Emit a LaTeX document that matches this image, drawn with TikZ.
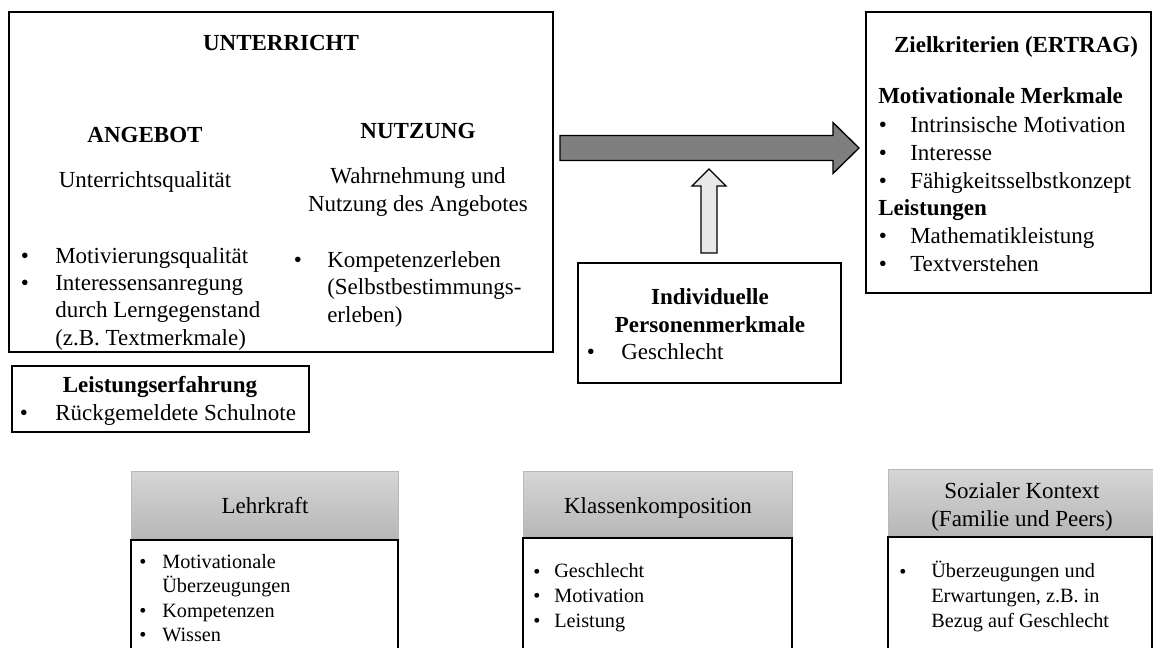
\documentclass[tikz,border=0pt]{standalone}
\usepackage{fontspec}
\setmainfont{Liberation Serif}
\usetikzlibrary{fit}
\definecolor{hdtop}{RGB}{214,214,214}
\definecolor{hdbot}{RGB}{182,182,182}
\definecolor{arrowdark}{RGB}{127,127,127}
\definecolor{arrowlight}{RGB}{232,232,232}
\definecolor{arrowmid}{RGB}{190,190,190}
\tikzset{
  frame/.style={draw=black, line width=1pt, fill=white, inner sep=0pt},
  headbox/.style={draw=gray!55, line width=0.6pt, top color=hdtop, bottom color=hdbot, inner sep=0pt},
  tb/.style={inner sep=0pt, font=\fontsize{17.25}{21}\selectfont},
  tbl/.style={inner sep=0pt, align=left, font=\fontsize{17.25}{20.6}\selectfont},
  tbz/.style={inner sep=0pt, align=left, font=\fontsize{17.25}{21}\selectfont},
  ts/.style={inner sep=0pt, align=left, font=\fontsize{15.2}{18.4}\selectfont},
  bul/.style={inner sep=0pt, anchor=base, font=\fontsize{17.25}{21}\selectfont},
  buls/.style={inner sep=0pt, anchor=base, font=\fontsize{15.2}{18.4}\selectfont},
}
\begin{document}
\begin{tikzpicture}[x=0.75pt,y=-0.75pt]
\useasboundingbox (0,0) rectangle (1153,647);
\clip (0,0) rectangle (1153,647);

% ---------- boxes ----------
\node[frame, fit={(9,12) (553,352)}] (unt) {};
\node[frame, fit={(866,12) (1151,293)}] (ziel) {};
\node[frame, fit={(578,263) (841,383)}] (indiv) {};
\node[frame, fit={(12,366) (309,432)}] (erf) {};

% bottom context boxes: shaded header above an open body
\node[headbox, fit={(131,471) (398,540)}] (lehrH) {};
\node[frame, fit={(131,540) (398,700)}] (lehrB) {};
\node[headbox, fit={(523,471) (792,538)}] (klasH) {};
\node[frame, fit={(523,538) (792,700)}] (klasB) {};
\node[headbox, fit={(888,469) (1170,537)}] (sozH) {};
\node[frame, fit={(888,537) (1152,700)}] (sozB) {};

% ---------- block arrows ----------
% wide arrow: UNTERRICHT -> Zielkriterien
\coordinate (bigS) at (560,148);
\coordinate (bigE) at (859,148);
\draw[line width=1pt, fill=arrowdark]
  (bigS |- 0,135.5) -- (833,135.5) -- (833,122.5) -- (bigE)
  -- (833,173.5) -- (833,160.5) -- (bigS |- 0,160.5) -- cycle;

% narrow arrow: Personenmerkmale -> wide arrow
\coordinate (smS) at (709,253);
\coordinate (smE) at (709,169);
\draw[line width=1pt, top color=arrowlight, middle color=arrowmid, bottom color=arrowlight]
  (701,253) -- (701,186) -- (692,186) -- (smE) -- (726,186) -- (717,186) -- (717,253) -- cycle;

% ---------- UNTERRICHT ----------
% (multi-line nodes are anchored at the baseline of their last line)
\node[tb, anchor=base] (tUnt) at (281,50) {\bfseries UNTERRICHT};
\node[tb, anchor=base] (tAng) at (145,142) {\bfseries ANGEBOT};
\node[tb, anchor=base] (tNutz) at (418,138) {\bfseries NUTZUNG};
\node[tb, anchor=base] (tUq) at (145,187) {Unterrichtsqualität};
\node[tb, anchor=base, align=center] (tWahr) at (418,211) {Wahrnehmung und\\Nutzung des Angebotes};

\node[bul] (bA1) at (25,263) {\textbullet};
\node[bul] (bA2) at (25,290.5) {\textbullet};
\node[tbl, anchor=base west] (lA) at (55,345.4) {Motivierungsqualität\\Interessensanregung\\durch Lerngegenstand\\(z.B. Textmerkmale)};

\node[bul] (bN1) at (298,267) {\textbullet};
\node[tbl, anchor=base west] (lN) at (327,322) {Kompetenzerleben\\(Selbstbestimmungs-\\erleben)};

% ---------- Zielkriterien ----------
\node[tb, anchor=base] (tZiel) at (1016,52) {\bfseries Zielkriterien (ERTRAG)};
\node[tb, anchor=base west] (tMot) at (878,103) {\bfseries Motivationale Merkmale};
\node[bul] (bZ1) at (883,132) {\textbullet};
\node[bul] (bZ2) at (883,160) {\textbullet};
\node[bul] (bZ3) at (883,188) {\textbullet};
\node[tbz, anchor=base west] (lMot) at (910,188) {Intrinsische Motivation\\Interesse\\Fähigkeitsselbstkonzept};
\node[tb, anchor=base west] (tLei) at (878,215) {\bfseries Leistungen};
\node[bul] (bZ4) at (883,243) {\textbullet};
\node[bul] (bZ5) at (883,271) {\textbullet};
\node[tbz, anchor=base west] (lLei) at (910,271) {Mathematikleistung\\Textverstehen};

% ---------- Individuelle Personenmerkmale ----------
\node[tb, anchor=base, align=center] (tInd) at (710,332) {\bfseries Individuelle\\\bfseries Personenmerkmale};
\node[bul] (bI1) at (591,359) {\textbullet};
\node[tb, anchor=base west] (lInd) at (621,359) {Geschlecht};

% ---------- Leistungserfahrung ----------
\node[tb, anchor=base] (tErf) at (160,392) {\bfseries Leistungserfahrung};
\node[bul] (bE1) at (24,420) {\textbullet};
\node[tb, anchor=base west] (lErf) at (55,420) {Rückgemeldete Schulnote};

% ---------- Lehrkraft ----------
\node[tb, anchor=base] (tLehr) at (265,513) {Lehrkraft};
\node[buls] (bL1) at (143,568) {\textbullet};
\node[buls] (bL2) at (143,617) {\textbullet};
\node[buls] (bL3) at (143,641.6) {\textbullet};
\node[ts, anchor=base west] (lLehr) at (162,641.6) {Motivationale\\Überzeugungen\\Kompetenzen\\Wissen};

% ---------- Klassenkomposition ----------
\node[tb, anchor=base] (tKlas) at (658,513) {Klassenkomposition};
\node[buls] (bK1) at (537,578) {\textbullet};
\node[buls] (bK2) at (537,602.5) {\textbullet};
\node[buls] (bK3) at (537,627) {\textbullet};
\node[ts, anchor=base west] (lKlas) at (554,627) {Geschlecht\\Motivation\\Leistung};

% ---------- Sozialer Kontext ----------
\node[tb, anchor=base, align=center] (tSoz) at (1022,526) {Sozialer Kontext\\(Familie und Peers)};
\node[buls] (bS1) at (903,578) {\textbullet};
\node[ts, anchor=base west] (lSoz) at (931,627) {Überzeugungen und\\Erwartungen, z.B. in\\Bezug auf Geschlecht};
\end{tikzpicture}
\end{document}
